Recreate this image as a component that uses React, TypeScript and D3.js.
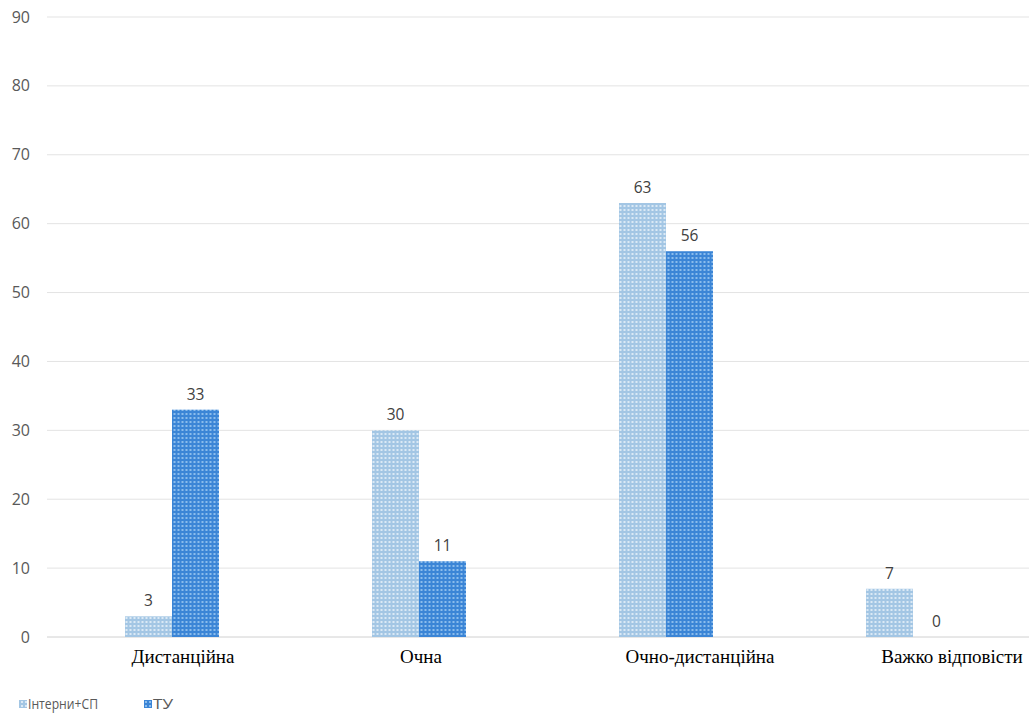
import React from "react";
import * as d3 from "d3";

const categories = ["Дистанційна", "Очна", "Очно-дистанційна", "Важко відповісти"];
const seriesNames = ["Інтерни+СП", "ТУ"];
const internsValues = [3, 30, 63, 7];
const tuValues = [33, 11, 56, 0];
const yTicks = [0, 10, 20, 30, 40, 50, 60, 70, 80, 90];
const labelShift = [11, 2, 34, 39];

const W = 1029;
const H = 713;

export default function App() {
  const y = d3.scaleLinear().domain([0, 90]).range([637, 17]);
  const x0 = d3.scaleBand<string>().domain(categories).range([48.5, 1036.5]).padding(0);
  const step = x0.bandwidth();
  const x1 = d3
    .scaleBand<string>()
    .domain(seriesNames)
    .range([step / 2 - 47, step / 2 + 47])
    .padding(0);
  const values = [internsValues, tuValues];
  const fills = ["url(#patLight)", "url(#patDark)"];
  const sans = "'Open Sans', 'Noto Sans', sans-serif";

  return (
    <svg
      width={W}
      height={H}
      style={{ position: "absolute", left: 0, top: 0, background: "#fff" }}
    >
      <defs>
        <pattern id="patLight" width="4" height="4" patternUnits="userSpaceOnUse">
          <rect width="4" height="4" fill="#a3c6e4" />
          <rect x="1" y="1" width="2" height="2" fill="#dbe9f5" />
        </pattern>
        <pattern id="patDark" width="4" height="4" patternUnits="userSpaceOnUse">
          <rect width="4" height="4" fill="#3b85d6" />
          <rect x="1" y="1" width="2" height="2" fill="#8bbcec" />
        </pattern>
      </defs>
      <rect width={W} height={H} fill="#fff" />
      {yTicks.map((t) => (
        <g key={t}>
          <line x1={47} x2={W} y1={y(t)} y2={y(t)} stroke={t === 0 ? "#d0d0d0" : "#e3e3e3"} strokeWidth={1} />
          <text
            x={30}
            y={y(t) + 5.5}
            textAnchor="end"
            fontFamily={sans}
            fontSize={16}
            fill="#595959"
          >
            {t}
          </text>
        </g>
      ))}
      {categories.map((c, ci) => (
        <g key={c} transform={`translate(${x0(c)},0)`}>
          {seriesNames.map((s, si) => {
            const v = values[si][ci];
            const bx = x1(s)!;
            const bw = x1.bandwidth();
            return (
              <g key={s}>
                <rect x={bx} y={y(v)} width={bw} height={y(0) - y(v)} fill={fills[si]} />
                <text
                  x={bx + bw / 2}
                  y={y(v) - 10}
                  textAnchor="middle"
                  fontFamily={sans}
                  fontSize={15.5}
                  fill="#404040"
                >
                  {v}
                </text>
              </g>
            );
          })}
          <text
            x={step / 2 + labelShift[ci]}
            y={663}
            textAnchor="middle"
            fontFamily="'Liberation Serif', 'Times New Roman', serif"
            fontSize={19}
            fill="#000"
          >
            {c}
          </text>
        </g>
      ))}
      <g fontFamily={sans} fontSize={15} fill="#595959">
        <rect x={19} y={700} width={8} height={8} fill="url(#patLight)" />
        <text x={28} y={709} textLength={70} lengthAdjust="spacingAndGlyphs">{seriesNames[0]}</text>
        <rect x={144} y={700} width={8} height={8} fill="url(#patDark)" />
        <text x={153} y={709} textLength={20} lengthAdjust="spacingAndGlyphs">{seriesNames[1]}</text>
      </g>
    </svg>
  );
}
